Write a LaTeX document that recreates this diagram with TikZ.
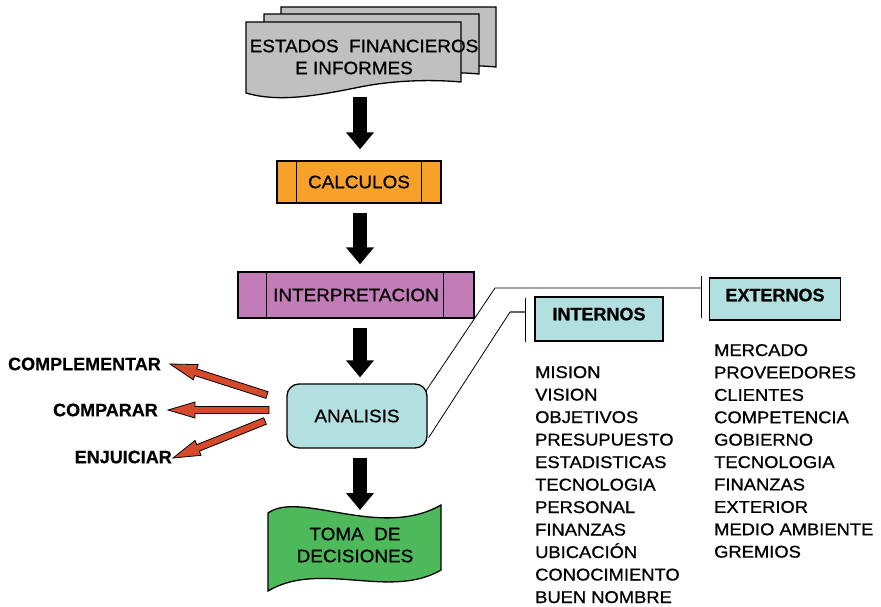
\documentclass[tikz,border=0pt]{standalone}
\usepackage{fontspec}
\setmainfont{Liberation Sans}[FakeBold=0.6]
\newfontfamily\lstfont{Liberation Sans}[FakeStretch=1.08,FakeBold=0.8]
\newfontfamily\boxfont{Liberation Sans}[FakeStretch=1.05,FakeBold=0.8]
\usetikzlibrary{calc,arrows.meta}
\definecolor{docgray}{RGB}{192,192,192}
\definecolor{calcor}{RGB}{247,161,43}
\definecolor{interpm}{RGB}{194,124,184}
\definecolor{anacy}{RGB}{178,223,224}
\definecolor{tomag}{RGB}{77,185,91}
\definecolor{redar}{RGB}{214,73,42}
\newcommand\redarrow[2]{%
  \coordinate (#1h) at ($(#2)!27pt!(#1)$);
  \draw[redarr] ($(#1)!3.5pt!90:(#2)$) -- ($(#1h)!3.5pt!-90:(#1)$) -- ($(#1h)!8pt!-90:(#1)$) -- (#2)
    -- ($(#1h)!8pt!90:(#1)$) -- ($(#1h)!3.5pt!90:(#1)$) -- ($(#1)!3.5pt!-90:(#2)$) -- cycle;}
\begin{document}
\begin{tikzpicture}[x=1pt,y=-1pt,
  outl/.style={draw=black, line width=1.3pt},
  boxtxt/.style={font=\boxfont\fontsize{18}{22}\selectfont},
  flowbox/.style={outl, boxtxt, inner sep=0pt},
  blkarrow/.style={line width=14pt, -{Triangle[length=17pt,width=27pt]}},
  redarr/.style={fill=redar, draw=black, line width=0.8pt, line join=miter},
  lbl/.style={font=\bfseries\fontsize{18}{22}\selectfont, inner sep=0pt},
  lst/.style={font=\lstfont\fontsize{17}{20}\selectfont, anchor=base west, inner sep=0pt},
  conn/.style={draw=black, line width=0.8pt},
]
\useasboundingbox[fill=white] (0,0) rectangle (881,607);

% document stack
\foreach \dx/\dy in {35/-15, 18/-8, 0/0} {
  \begin{scope}[shift={(\dx,\dy)}]
    \path[outl, fill=docgray] (246,22) -- (461,22) -- (461,82)
      .. controls (440,80) and (400,79) .. (360,87)
      .. controls (320,95) and (280,103) .. (246,93) -- cycle;
  \end{scope}}
\node[boxtxt, align=center, inner sep=0pt] (doc) at (364,57) {ESTADOS\ \ FINANCIEROS\\\hspace*{-20pt}E INFORMES};
\coordinate (docb) at (360,97);

% boxes
\node[flowbox, fill=calcor, minimum width=164pt, minimum height=42pt] (calc) at (359,182) {CALCULOS};
\draw[outl] ([xshift=20pt]calc.north west) -- ([xshift=20pt]calc.south west);
\draw[outl] ([xshift=-20pt]calc.north east) -- ([xshift=-20pt]calc.south east);

\node[flowbox, fill=interpm, minimum width=236pt, minimum height=46pt] (interp) at (356,295) {INTERPRETACION};
\draw[outl] ([xshift=29pt]interp.north west) -- ([xshift=29pt]interp.south west);
\draw[outl] ([xshift=-31pt]interp.north east) -- ([xshift=-31pt]interp.south east);

\node[flowbox, fill=anacy, rounded corners=12pt, minimum width=140pt, minimum height=64pt] (anal) at (357,416) {ANALISIS};

% toma de decisiones banner
\path[outl, fill=tomag] (268,513) .. controls (300,490) and (380,540) .. (441,505)
  -- (441,570) .. controls (390,600) and (320,560) .. (268,591) -- cycle;
\node[boxtxt, align=center, inner sep=0pt] (toma) at (355,545) {TOMA\ \ DE\\DECISIONES};

% black arrows
\draw[blkarrow] (docb) -- ([yshift=11pt]docb |- calc.north);
\draw[blkarrow] ([yshift=-9pt]docb |- calc.south) -- ([yshift=7pt]docb |- interp.north);
\draw[blkarrow] ([yshift=-9pt]docb |- interp.south) -- ([yshift=6pt]docb |- anal.north);
\draw[blkarrow] ([yshift=-9pt]docb |- anal.south) -- (360,510);

% internos / externos
\node[outl, fill=anacy, lbl, minimum width=128pt, minimum height=44pt, text depth=10pt] (int) at (599,319) {INTERNOS};
\node[outl, fill=anacy, lbl, minimum width=131pt, minimum height=42pt, text depth=8pt] (ext) at (775,299) {EXTERNOS};

\coordinate (u0) at ([xshift=-2pt,yshift=-8pt]anal.north east);
\coordinate (u1) at (495,288);
\coordinate (ub) at ([xshift=-7pt,yshift=11pt]ext.west);
\draw[conn] (u0) -- (u1) -- (ub);
\draw[conn] ([yshift=12pt]ub) -- ([yshift=-30pt]ub);

\coordinate (l0) at ([xshift=1pt,yshift=11pt]anal.south east);
\coordinate (l1) at (510,312);
\coordinate (lb) at ([xshift=-9pt,yshift=7pt]int.west);
\draw[conn] (l0) -- (l1);
\draw[line width=2pt, draw=black!60] (l1) -- (lb);
\draw[conn] ([yshift=14pt]lb) -- ([yshift=-30pt]lb);

% lists
\foreach \w [count=\i from 0] in {MISION,VISION,OBJETIVOS,PRESUPUESTO,ESTADISTICAS,TECNOLOGIA,PERSONAL,FINANZAS,UBICACIÓN,CONOCIMIENTO,BUEN NOMBRE}
  \node[lst] (in\i) at (535,{378+22.5*\i}) {\w};
\foreach \w [count=\i from 0] in {MERCADO,PROVEEDORES,CLIENTES,COMPETENCIA,GOBIERNO,TECNOLOGIA,FINANZAS,EXTERIOR,MEDIO AMBIENTE,GREMIOS}
  \node[lst] (ex\i) at (714,{356+22.4*\i}) {\w};

% left labels and red arrows
\node[lbl, anchor=east] (comp) at (161,364) {COMPLEMENTAR};
\node[lbl, anchor=east] (compa) at (158,410) {COMPARAR};
\node[lbl, anchor=east] (enj) at (172,457) {ENJUICIAR};
\coordinate (t1) at (267,395); \coordinate (e1) at ([xshift=9pt]comp.east);
\coordinate (t2) at (269,410); \coordinate (e2) at ([xshift=10pt]compa.east);
\coordinate (t3) at (265,421); \coordinate (e3) at ([xshift=1pt,yshift=-1pt]enj.east);
\redarrow{t1}{e1}
\redarrow{t2}{e2}
\redarrow{t3}{e3}
\end{tikzpicture}
\end{document}
